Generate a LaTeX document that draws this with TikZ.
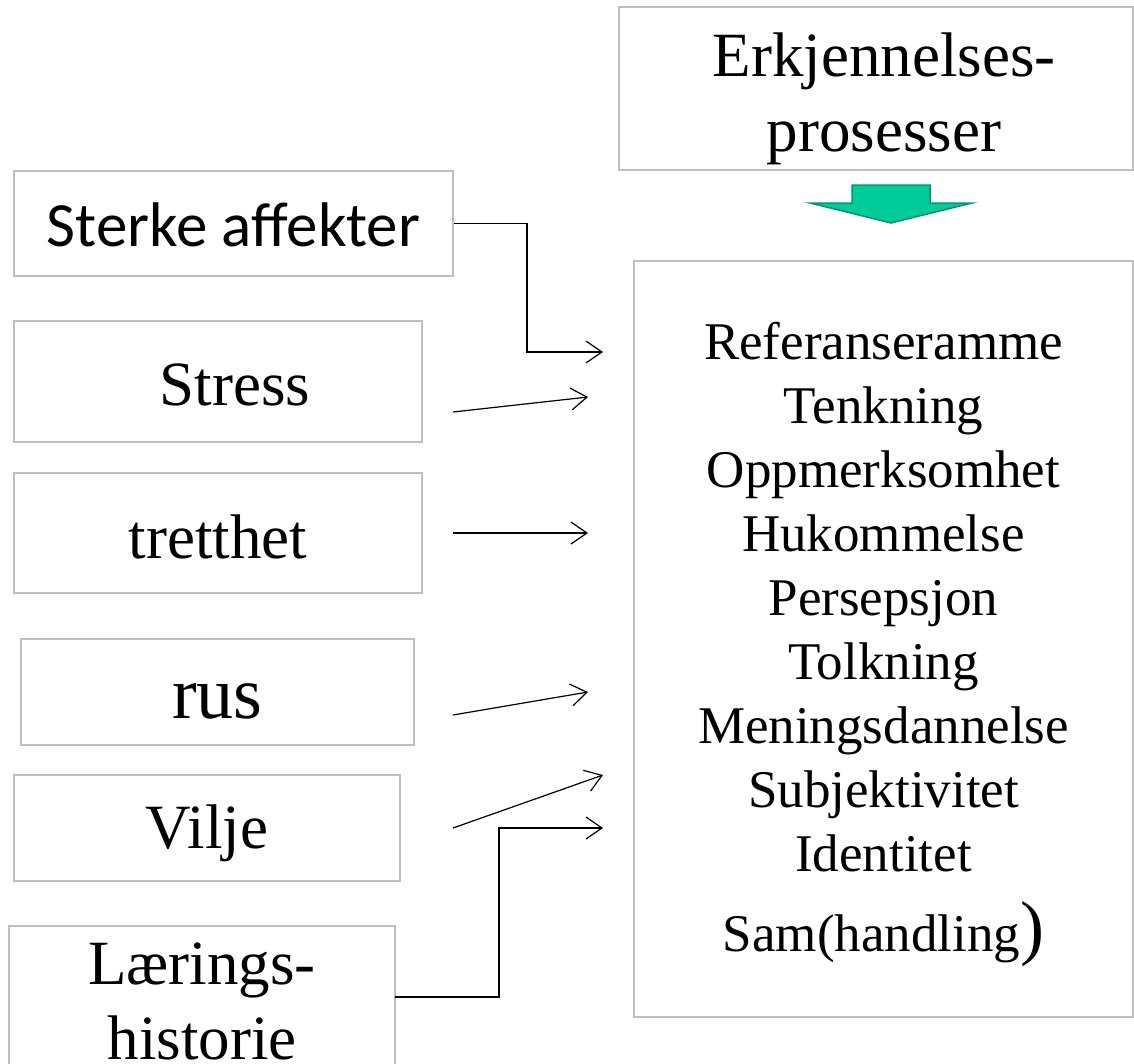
\documentclass[tikz,border=0pt]{standalone}
\usepackage{fontspec}
\setmainfont{Liberation Serif}
\newfontfamily\calfont{Carlito}
\usetikzlibrary{arrows.meta,calc}
\definecolor{boxgray}{HTML}{BFBFBF}
\definecolor{arrfill}{HTML}{00CC99}
\definecolor{arrdraw}{HTML}{009977}
\begin{document}
\begin{tikzpicture}[x=1pt,y=-1pt,
  box/.style={draw=boxgray, line width=2pt, inner sep=0pt},
  txt/.style={inner sep=0pt, align=center, font=\fontsize{63}{75}\selectfont},
  conn/.style={draw=black, line width=1.2pt, -{Straight Barb[length=16pt,width=22pt,line width=1.2pt]}}]
\useasboundingbox (0,0) rectangle (1134,1063);
\fill[white] (0,0) rectangle (1134,1063);
% boxes
\node[box, minimum width=514pt, minimum height=163pt] (erk) at (876,88.5) {};
\node[box, minimum width=439pt, minimum height=105pt] (sterke) at (233.5,223.5) {};
\node[box, minimum width=408pt, minimum height=121pt] (stress) at (218,381.5) {};
\node[box, minimum width=408pt, minimum height=120pt] (tretthet) at (218,533) {};
\node[box, minimum width=393pt, minimum height=106pt] (rus) at (217.5,692) {};
\node[box, minimum width=386pt, minimum height=106pt] (vilje) at (207,828) {};
\node[box, minimum width=386pt, minimum height=154pt] (laer) at (202,1003) {};
\node[box, minimum width=499pt, minimum height=756pt] (main) at (883.5,639) {};
% texts
\node[txt] (erkT) at ($(erk.center)+(8,10)$) {Erkjennelses-\\prosesser};
\node[txt, font=\calfont\fontsize{63}{75}\selectfont] (sterkeT) at ($(sterke.center)+(0,1)$) {Sterke affekter};
\node[txt] (stressT) at ($(stress.center)+(17,3)$) {Stress};
\node[txt] (tretthetT) at ($(tretthet.center)+(0,4)$) {tretthet};
\node[txt, font=\fontsize{74}{80}\selectfont] (rusT) at ($(rus.center)+(0,9)$) {rus};
\node[txt] (viljeT) at ($(vilje.center)+(0,5)$) {Vilje};
\node[txt] (laerT) at ($(laer.center)+(0,-2)$) {Lærings-\\historie};
\node[txt, font=\fontsize{53}{64}\selectfont] (mainT) at ($(main.center)+(0,5)$)
  {Referanseramme\\Tenkning\\Oppmerksomhet\\Hukommelse\\Persepsjon\\Tolkning\\Meningsdannelse\\Subjektivitet\\Identitet\\[16pt]Sam(handling{\fontsize{72}{72}\selectfont)}};
% green arrow
\draw[fill=arrfill, draw=arrdraw, line width=1.5pt, line join=miter]
  (852,185) -- (930,185) -- (930,203) -- (972,203) -- (891,223) -- (810,203) -- (852,203) -- cycle;
% connector coordinates
\coordinate (s1) at (sterke.east);
\coordinate (e1) at (603,352);
\coordinate (s2) at (453,412);
\coordinate (e2) at (588,397);
\coordinate (s3) at (453,533);
\coordinate (e3) at (588,533);
\coordinate (s4) at (453,715);
\coordinate (e4) at (588,692);
\coordinate (s5) at (453,828);
\coordinate (e5) at (603,775);
\coordinate (s6) at (395,997);
\coordinate (e6) at (603,828);
\draw[conn] (s1) -| (527,300) |- (e1);
\draw[conn] (s2) -- (e2);
\draw[conn] (s3) -- (e3);
\draw[conn] (s4) -- (e4);
\draw[conn] (s5) -- (e5);
\draw[conn] (s6) -| (499,900) |- (e6);
\end{tikzpicture}
\end{document}
